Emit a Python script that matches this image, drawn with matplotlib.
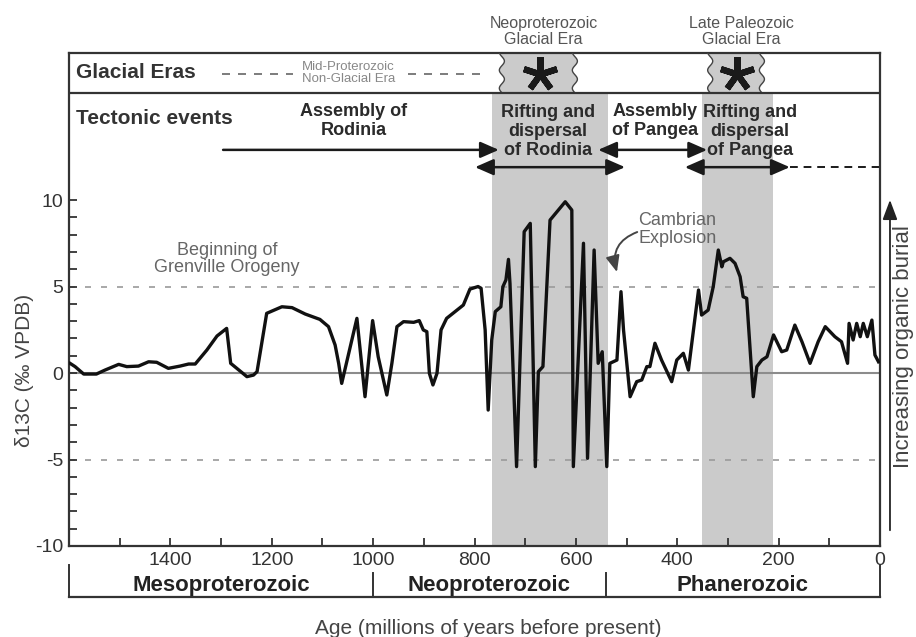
import numpy as np
import matplotlib
matplotlib.use("Agg")
import matplotlib.pyplot as plt
from matplotlib.patches import Polygon

plt.rcParams['font.family'] = ['Liberation Sans', 'DejaVu Sans']
plt.rcParams['axes.unicode_minus'] = False

# ---- data ----
ages = [1598, 1588, 1571, 1546, 1529, 1502, 1486, 1463, 1443, 1427, 1404, 1381, 1364, 1351, 1328,
        1308, 1289, 1281, 1269, 1249, 1236, 1229, 1210, 1180, 1160, 1134, 1105, 1088, 1075, 1068,
        1062, 1032, 1016, 1001, 990, 973, 963, 953, 940, 920, 909, 901, 894, 889, 882,
        874, 866, 855, 822, 809, 793, 787, 779, 773, 766, 759, 748, 744, 738, 733,
        730, 717, 702, 690, 680, 674, 665, 651, 621, 608, 605, 585, 577, 564, 556,
        548, 539, 533, 519, 511, 506, 493, 480, 470, 460, 454, 444, 431, 411, 401,
        388, 378, 358, 352, 339, 329, 319, 312, 309, 296, 286, 276, 270, 263, 250,
        243, 233, 223, 210, 194, 184, 168, 154, 138, 122, 108, 89, 76, 64, 61,
        53, 46, 39, 33, 25, 16, 10, 3]
d13c = [0.56, 0.37, -0.06, -0.06, 0.17, 0.5, 0.37, 0.4, 0.65, 0.62, 0.27, 0.4, 0.52, 0.52, 1.33,
        2.14, 2.58, 0.56, 0.27, -0.21, -0.12, 0.08, 3.45, 3.83, 3.78, 3.41, 3.1, 2.68, 1.62, 0.56,
        -0.6, 3.16, -1.37, 3.03, 0.94, -1.27, 0.56, 2.68, 2.97, 2.93, 3.03, 2.49, 2.39, -0.02, -0.69,
        -0.02, 2.49, 3.16, 3.93, 4.85, 5.0, 4.9, 2.49, -2.14, 1.91, 3.55, 3.83, 4.99, 5.38, 6.57,
        5.18, -5.41, 8.17, 8.65, -5.41, 0.08, 0.37, 8.84, 9.9, 9.42, -5.41, 7.5, -4.93, 7.11, 0.56,
        1.23, -5.41, 0.56, 0.75, 4.7, 2.49, -1.37, -0.5, -0.4, 0.37, 0.37, 1.72, 0.75, -0.5, 0.75,
        1.14, 0.17, 4.8, 3.35, 3.64, 4.99, 7.11, 6.14, 6.43, 6.63, 6.34, 5.57, 4.41, 4.32, -1.37,
        0.37, 0.75, 0.94, 2.2, 1.23, 1.33, 2.77, 1.81, 0.56, 1.81, 2.68, 2.1, 1.81, 0.56, 2.87,
        1.91, 2.87, 2.1, 2.87, 2.1, 3.06, 1.04, 0.65]

xtick_vals = [1400, 1200, 1000, 800, 600, 400, 200, 0]
xtick_labels = ['1400', '1200', '1000', '800', '600', '400', '200', '0']
ytick_vals = [-10, -5, 0, 5, 10]

rift_bands = [(765, 536), (351, 211)]          # grey bands (Ma)
glacial_eras = [(746, 602, 671), (335, 233, 282)]   # left, right, asterisk centre
glacial_names = ['Neoproterozoic\nGlacial Era', 'Late Paleozoic\nGlacial Era']
eras = ['Mesoproterozoic', 'Neoproterozoic', 'Phanerozoic']
era_bounds = [1600, 1000, 541, 0]

GREY = '#cbcbcb'
DARK = '#333333'

fig = plt.figure(figsize=(9.16, 6.37), dpi=100)
ax = fig.add_axes([69/916, 1-546/637, 811/916, 493/637])
ax.set_xlim(1600, 0)
ax.set_ylim(-10, 18.5)

BOX_Y = 16.2
for a, b in rift_bands:
    ax.fill_between([a, b], -10, BOX_Y, color=GREY, lw=0, zorder=0)

ax.axhline(0, color='#8c8c8c', lw=1.5, zorder=1)
for v in (5, -5):
    ax.axhline(v, color='#9a9a9a', lw=1.2, ls=(0, (3.6, 6)), zorder=1)

ax.plot(ages, d13c, color='#111111', lw=2.4, zorder=3, solid_joinstyle='round')

# glacial era box
ax.axhline(BOX_Y, color=DARK, lw=1.6, zorder=4)
yy = np.linspace(BOX_Y, 18.5, 60)
wav = 5 * np.sin((yy - BOX_Y) / (18.5 - BOX_Y) * 2 * np.pi * 2.2)
for (l, r, cx), name in zip(glacial_eras, glacial_names):
    left = l + wav
    right = r + wav
    poly = list(zip(left, yy)) + list(zip(right[::-1], yy[::-1]))
    ax.add_patch(Polygon(poly, closed=True, fc=GREY, ec='none', zorder=2))
    ax.plot(left, yy, color='#444444', lw=1.0, zorder=3)
    ax.plot(right, yy, color='#444444', lw=1.0, zorder=3)
    ax.plot([cx], [17.3], marker=(5, 2, 0), ms=25, mew=4.5, color='#1a1a1a', zorder=5)
    ax.text((l + r) / 2 - 10, 19.74, name, ha='center', va='center', fontsize=11.5,
            color='#555555', linespacing=1.05, clip_on=False)

ax.text(1586, 17.35, 'Glacial Eras', ha='left', va='center', fontsize=15,
        fontweight='bold', color=DARK)
ax.text(1049, 17.35, 'Mid-Proterozoic\nNon-Glacial Era', ha='center', va='center',
        fontsize=9.5, color='#888888', linespacing=1.0)
for x0, x1 in [(1298, 1158), (931, 785)]:
    ax.plot([x0, x1], [17.3, 17.3], color='#666666', lw=1.2, ls=(0, (4.8, 4.8)))

# tectonic events
ax.text(1586, 14.74, 'Tectonic events', ha='left', va='center', fontsize=15,
        fontweight='bold', color=DARK)
tect_kw = dict(ha='center', va='center', fontsize=13, fontweight='bold', color='#2a2a2a',
               linespacing=1.15)
ax.text(1039, 14.57, 'Assembly of\nRodinia', **tect_kw)
ax.text(655, 13.96, 'Rifting and\ndispersal\nof Rodinia', **tect_kw)
ax.text(444, 14.57, 'Assembly\nof Pangea', **tect_kw)
ax.text(256, 13.96, 'Rifting and\ndispersal\nof Pangea', **tect_kw)

def arrow(x0, x1, y, style):
    ax.annotate('', xy=(x1, y), xytext=(x0, y),
                arrowprops=dict(arrowstyle=style + ',head_length=0.8,head_width=0.35',
                                color='#1a1a1a', lw=1.8, mutation_scale=14,
                                shrinkA=0, shrinkB=0), zorder=6)

arrow(1296, 752, 12.9, '-|>')
arrow(556, 341, 12.9, '<|-|>')
arrow(799, 503, 11.9, '<|-|>')
arrow(385, 178, 11.9, '<|-|>')
ax.plot([178, 2], [11.9, 11.9], color='#1a1a1a', lw=1.4, ls=(0, (4, 3)))

# annotations
ax.text(1288, 6.6, 'Beginning of\nGrenville Orogeny', ha='center', va='center', fontsize=13,
        color='#666666', linespacing=1.05)
ax.text(400, 8.3, 'Cambrian\nExplosion', ha='center', va='center', fontsize=13,
        color='#666666', linespacing=1.05)
ax.annotate('', xy=(519, 5.84), xytext=(479, 8.15),
            arrowprops=dict(arrowstyle='-|>,head_length=0.7,head_width=0.3',
                            connectionstyle='arc3,rad=0.45', color='#444444', lw=1.4,
                            mutation_scale=14, shrinkA=0, shrinkB=0))

# axes styling
for s in ax.spines.values():
    s.set_color(DARK)
    s.set_linewidth(1.6)
ax.set_xticks(xtick_vals)
ax.set_xticklabels(xtick_labels)
ax.set_xticks(list(range(1500, 0, -200)), minor=True)
ax.set_yticks(ytick_vals)
ax.set_yticks(list(range(-10, 11)), minor=True)
ax.tick_params(which='both', direction='in', length=6, width=1.3, color=DARK,
               top=False, right=False)
ax.tick_params(labelsize=14, labelcolor='#333333')
ax.tick_params(axis='x', pad=4)
ax.tick_params(axis='y', pad=4)

# era bar below
trans = ax.get_xaxis_transform()
ax.plot([1600, 0], [-0.1035, -0.1035], transform=trans, clip_on=False, color=DARK, lw=1.6)
for b in era_bounds:
    top = -0.0385 if b in (1600, 0) else -0.055
    ax.plot([b, b], [top, -0.1035], transform=trans, clip_on=False, color=DARK, lw=1.4)
for i, name in enumerate(eras):
    mid = (era_bounds[i] + era_bounds[i + 1]) / 2
    ax.text(mid, -0.081, name, transform=trans, ha='center', va='center', fontsize=16,
            fontweight='bold', color='#222222')

# right-hand arrow
ax.annotate('', xy=(1.0123, 0.702), xytext=(1.0123, 0.032), xycoords='axes fraction',
            arrowprops=dict(arrowstyle='-|>,head_length=0.8,head_width=0.3', color='#222222',
                            lw=1.3, mutation_scale=15, shrinkA=0, shrinkB=0))
ax.text(1.0284, 0.404, 'Increasing organic burial', rotation=90, transform=ax.transAxes,
        ha='center', va='center', fontsize=16, color='#444444')

fig.text(25/916, 1-370/637, 'δ13C (‰ VPDB)', rotation=90, ha='center', va='center',
         fontsize=15, color='#444444')
fig.text(488/916, 1-628/637, 'Age (millions of years before present)', ha='center',
         va='center', fontsize=15, color='#444444')

fig.savefig('out.png', dpi=100)
